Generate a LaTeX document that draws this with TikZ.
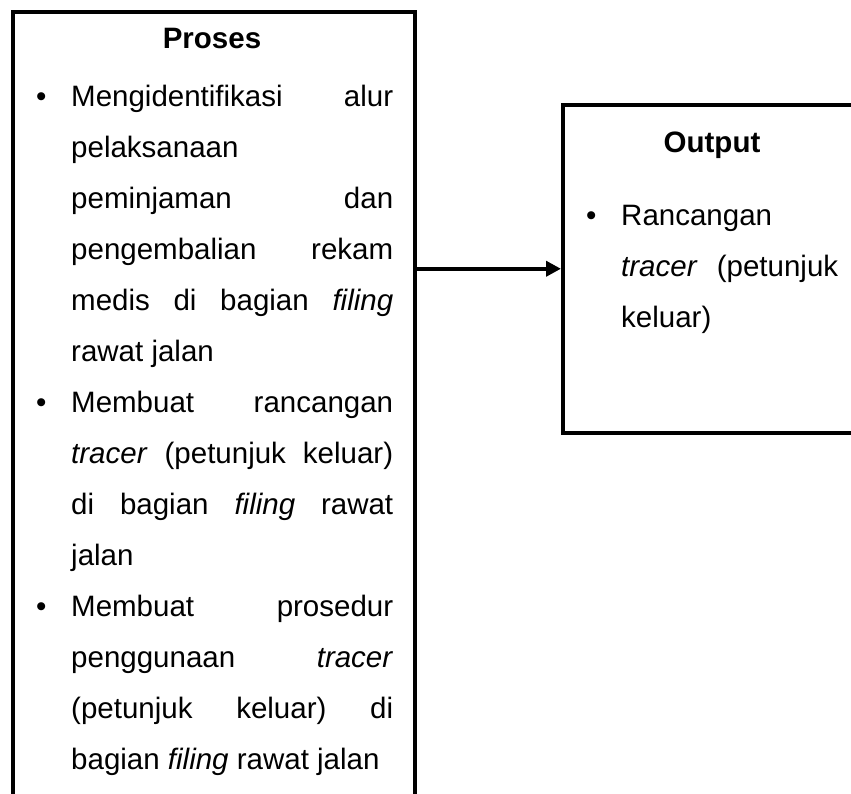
\documentclass[tikz,border=0pt]{standalone}
\usepackage{fontspec}
\setmainfont{Liberation Sans}
\usetikzlibrary{arrows.meta}

\tikzset{
  panel/.style={draw, line width=4pt, outer sep=0pt, inner sep=0pt, anchor=north west},
  heading/.style={anchor=base, inner sep=0pt, font=\fontsize{29.5pt}{51pt}\selectfont\bfseries},
  bodytext/.style={anchor=base west, inner sep=0pt, font=\fontsize{29.5pt}{51pt}\selectfont},
  link/.style={line width=4pt, -{Triangle[length=15pt,width=15pt]}, shorten >=2pt},
}

% a fully justified line, and a bullet hung in the left margin
\newcommand{\jline}[1]{\makebox[\linewidth][s]{#1}\par}
\newcommand{\lline}[1]{\makebox[\linewidth][l]{#1}\par}
\newcommand{\bul}{\llap{\makebox[35.2pt][l]{\textbullet}}}

\begin{document}
\begin{tikzpicture}[x=1pt, y=-1pt]
  \clip (0,0) rectangle (851,793);

  % the two boxes (the left one runs past the bottom, the right one past the right side)
  \node[panel, minimum width=402pt, minimum height=840pt] (proses) at (13,11.5) {};
  \node[panel, minimum width=298pt, minimum height=327.5pt] (output) at (563,105) {};

  % headings
  \node[heading] (prosestitle) at (212,48) {Proses};
  \node[heading] (outputtitle) at (712,152) {Output};

  % left box text
  \node[bodytext] (prosesbody) at (71,106) {%
    \begin{minipage}[t]{322pt}
      \jline{\bul Mengidentifikasi alur}
      \lline{pelaksanaan}
      \jline{peminjaman dan}
      \jline{pengembalian rekam}
      \jline{medis di bagian \textit{filing}}
      \lline{rawat jalan}
      \jline{\bul Membuat rancangan}
      \jline{\textit{tracer} (petunjuk keluar)}
      \jline{di bagian \textit{filing} rawat}
      \lline{jalan}
      \jline{\bul Membuat prosedur}
      \jline{penggunaan \textit{tracer}}
      \jline{(petunjuk keluar) di}
      \lline{bagian \textit{filing} rawat jalan}
    \end{minipage}};

  % right box text
  \node[bodytext] (outputbody) at (621,225) {%
    \begin{minipage}[t]{217pt}
      \lline{\bul Rancangan}
      \jline{\textit{tracer} (petunjuk}
      \lline{keluar)}
    \end{minipage}};

  % connector
  \draw[link] (proses.east |- output.west) -- (output.west);
\end{tikzpicture}
\end{document}
